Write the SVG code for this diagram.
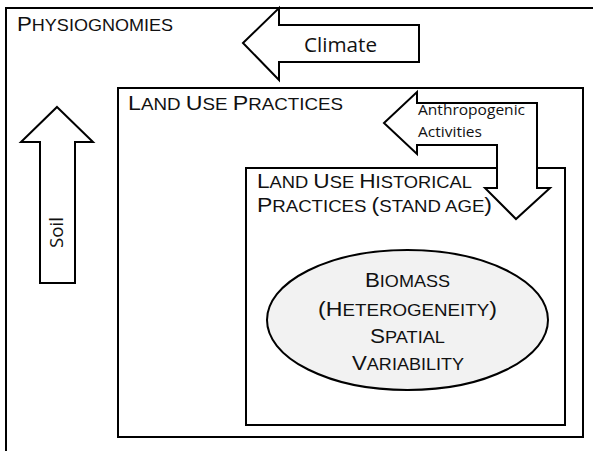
<svg xmlns="http://www.w3.org/2000/svg" width="593" height="451" viewBox="0 0 593 451">
<style>
.box{fill:none;stroke:#000;stroke-width:2}
.arr{fill:#fff;stroke:#000;stroke-width:2;stroke-linejoin:miter}
.sc{font-family:"Liberation Sans",Arial,sans-serif;fill:#111}
.b{font-size:21px}
.s{font-size:17px}
.cal{font-family:"Open Sans","Liberation Sans",sans-serif;fill:#111}
</style>
<rect width="593" height="451" fill="#fff"/>
<g id="physiognomies">
<path class="box" d="M6,451 L6,8 L593,8"/>
<text class="sc" x="17" y="31" textLength="156" lengthAdjust="spacingAndGlyphs"><tspan class="b">P</tspan><tspan class="s">HYSIOGNOMIES</tspan></text>
</g>
<g id="land-use-practices">
<rect class="box" x="118" y="88" width="465" height="349"/>
<text class="sc" x="128" y="110" textLength="215" lengthAdjust="spacingAndGlyphs"><tspan class="b">L</tspan><tspan class="s">AND </tspan><tspan class="b">U</tspan><tspan class="s">SE </tspan><tspan class="b">P</tspan><tspan class="s">RACTICES</tspan></text>
</g>
<g id="land-use-historical">
<rect class="box" x="246" y="168" width="319" height="257"/>
<text class="sc" x="257" y="188" textLength="215" lengthAdjust="spacingAndGlyphs"><tspan class="b">L</tspan><tspan class="s">AND </tspan><tspan class="b">U</tspan><tspan class="s">SE </tspan><tspan class="b">H</tspan><tspan class="s">ISTORICAL</tspan></text>
<text class="sc" x="257" y="212" textLength="235" lengthAdjust="spacingAndGlyphs"><tspan class="b">P</tspan><tspan class="s">RACTICES </tspan><tspan class="b">(</tspan><tspan class="s">STAND AGE</tspan><tspan class="b">)</tspan></text>
</g>
<g id="biomass">
<ellipse cx="407.5" cy="320" rx="140.5" ry="70" fill="#f2f2f2" stroke="#000" stroke-width="2"/>
<g class="sc">
<text x="365" y="287" textLength="85" lengthAdjust="spacingAndGlyphs"><tspan class="b">B</tspan><tspan class="s">IOMASS</tspan></text>
<text x="318" y="316" textLength="179" lengthAdjust="spacingAndGlyphs"><tspan class="b">(H</tspan><tspan class="s">ETEROGENEITY</tspan><tspan class="b">)</tspan></text>
<text x="370" y="343" textLength="75" lengthAdjust="spacingAndGlyphs"><tspan class="b">S</tspan><tspan class="s">PATIAL</tspan></text>
<text x="352" y="370" textLength="112" lengthAdjust="spacingAndGlyphs"><tspan class="b">V</tspan><tspan class="s">ARIABILITY</tspan></text>
</g>
</g>
<g id="connectors">
<g id="climate">
<path class="arr" d="M243,43 L279,8 L279,25 L419,25 L419,62 L279,62 L279,80 Z"/>
<text class="cal" x="304" y="52" font-size="20" textLength="73" lengthAdjust="spacingAndGlyphs">Climate</text>
</g>
<g id="soil">
<path class="arr" d="M57,107 L93,142 L75,142 L75,283 L40,283 L40,142 L21,142 Z"/>
<text class="cal" font-size="18.5" transform="translate(63,248) rotate(-90)" textLength="31" lengthAdjust="spacingAndGlyphs">Soil</text>
</g>
<g id="anthropogenic">
<path class="arr" d="M384,123 L417,92 L417,103 L537,103 L537,188 L550,188 L516,219 L485,188 L497,188 L497,145 L417,145 L417,154 Z"/>
<text class="cal" x="418" y="115" font-size="14.5" textLength="107" lengthAdjust="spacingAndGlyphs">Anthropogenic</text>
<text class="cal" x="418" y="137" font-size="14.5" textLength="64" lengthAdjust="spacingAndGlyphs">Activities</text>
</g>
</g>
</svg>
